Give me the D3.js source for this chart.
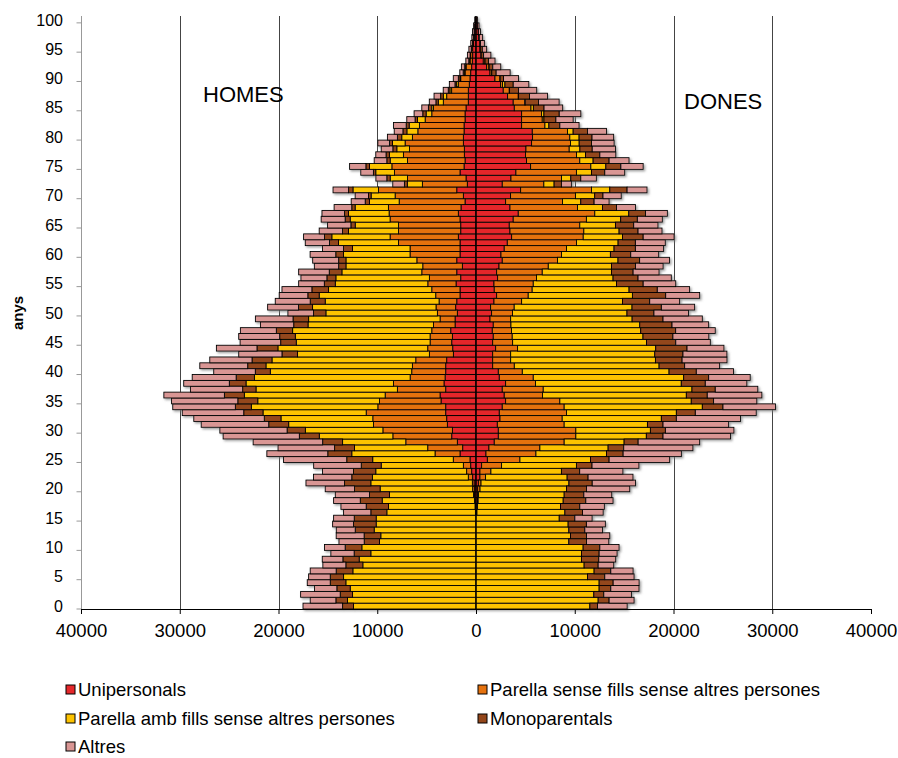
<!DOCTYPE html>
<html>
<head>
<meta charset="utf-8">
<script src="https://cdn.jsdelivr.net/npm/d3@7"></script>
<style>
  body { margin: 0; background: #fff; }
  svg { font-family: "Liberation Sans", Arial, sans-serif; }
</style>
</head>
<body>
<svg id="chart" width="898" height="758"></svg>
<script>
// ages 0..100
const ages = d3.range(0, 101);
const seriesNames = ["Unipersonals", "Parella sense fills sense altres persones",
  "Parella amb fills sense altres persones", "Monoparentals", "Altres"];
const seriesColors = ["#E5282B", "#E5720E", "#FDC300", "#93461A", "#D99694"];
const xTicks = [-40000, -30000, -20000, -10000, 0, 10000, 20000, 30000, 40000];

// HOMES (men)
const homesUni = [0,0,0,0,0,0,0,0,0,0, 0,0,0,0,0,0,30,60,100,150, 170,
  200,340,440,540,610,1620,1350,1890,2460,2390, 2900,2970,3070,3070,3540,3640,3070,3240,3130,3070,
  3070,2970,2290,2360,2460,2390,2560,2120,2120,1890, 2060,1950,1620,1620,2020,1550,1950,1380,1950,1620,
  1620,1620,1790,1550,1550,1620,1790,1520,1110,1280, 1950,880,1010,1620,1210,1110,1180,1180,1280,1280,
  1210,1210,1110,1110,1010,780,780,780,680,610, 540,440,370,340,340,250,170,150,100,60];
const homesParSense = [0,0,0,0,0,0,0,0,0,0, 0,0,0,0,0,0,30,40,60,100, 170,
  170,440,510,740,1690,2530,3540,5220,5960,7040, 7480,7480,8050,6870,6230,5560,4890,5120,3540,3440,
  3370,3130,2430,2530,2190,2260,1920,2190,1520,2020, 1990,1790,2460,2860,2860,3170,3540,4010,4040,5060,
  5060,6230,6910,6300,6300,7080,7010,7350,6670,6910, 7920,4550,5930,6640,7310,5830,6170,5560,5900,5160,
  4680,4520,4040,3370,3300,2530,2190,1690,1110,940, 570,570,240,200,100,80,50,30,30,20];
const homesParAmb = [12400,13010,12500,12740,13180,13410,12470,11460,11830,10650, 11560,9770,9640,10310,10110,10110,8970,8760,9340,8510, 9370,
  10280,9710,9200,8320,8160,8430,7410,6400,7450,7850, 8590,9300,10450,12810,12330,14260,14320,14930,15770,14320,
  14830,14560,13350,15170,13550,13650,14090,12700,13310,11290, 12500,11530,11800,10450,9370,9470,8090,7780,7180,6740,
  5830,6070,5900,5060,4380,4040,4110,3370,3000,2430, 2590,1520,1750,1890,2260,1750,1420,1280,1280,1080,
  1110,1040,780,570,170,510,340,170,170,70, 40,30,20,20,10,10,10,0,0,0];
const homesMono = [1110,1180,1250,1350,1580,1350,1690,1720,1650,1690, 1690,1550,1690,1920,2290,2220,1620,2260,2220,2020, 2590,
  2660,2090,2260,2020,2630,2430,2020,2020,2020,1850, 2020,1690,1950,1620,2020,2020,1350,1690,1850,1520,
  1850,2020,1580,2120,1580,1580,1650,1450,1580,1250, 1420,1520,1150,1690,1110,910,1280,740,740,780,
  910,910,740,610,440,510,400,340,440,270, 440,300,340,240,370,340,340,400,300,440,
  400,300,240,340,340,240,270,170,170,170, 150,100,100,40,30,20,20,10,10,0];
const homesAltres = [4010,2600,4010,2260,2330,2190,2630,2330,2090,2360, 2090,2560,2830,1920,2120,2090,2760,2560,2700,3470, 2970,
  3910,3880,3130,4820,6400,6170,5730,7040,7720,6810, 6840,7140,6230,6340,6710,6130,5290,4620,4450,4210,
  4850,4280,4380,4110,4110,4150,3640,3370,3810,2600, 3130,3540,2900,3030,2600,2630,3100,2460,2630,2600,
  2120,2460,2120,2360,2360,2430,2290,1790,1420,1350, 1580,1180,1110,1280,1650,1280,1040,1180,1180,1010,
  880,1280,840,880,670,670,670,510,570,510, 340,340,300,270,240,170,170,170,100,40];

// DONES (women)
const donesUni = [0,0,0,0,0,0,0,0,0,0, 0,0,0,0,0,0,60,100,140,160, 170,
  240,400,400,570,1150,1010,1310,1850,2260,2260, 2160,2430,2360,2660,3000,2860,2660,3000,2360,2260,
  1690,1690,1690,1990,1690,1750,1650,1750,1420,1580, 1480,1820,2090,1850,1820,2190,2090,2330,2660,2530,
  2860,3170,3610,3440,3370,3770,4280,3440,3000,3500, 4520,2660,3540,4040,5530,5120,5020,5060,5630,5730,
  5700,4620,4620,4620,3880,3770,3200,2760,2490,1920, 1420,1080,740,510,400,400,300,230,130,100];
const donesParSense = [0,0,0,0,0,0,0,0,0,0, 0,0,0,0,0,0,40,60,80,100, 240,
  270,570,1110,2020,3300,5060,5160,7080,7850,7850, 6770,6300,6810,6270,5490,3880,4150,3030,3440,2430,
  2190,1820,1820,2220,2020,1920,1950,1790,2090,2120, 2390,2800,3200,3840,3980,3940,4620,4990,5590,6130,
  6300,7010,7250,7480,7140,7410,7750,6840,5760,6570, 7180,4210,5120,6130,6100,5390,5160,4380,3940,3770,
  3570,2360,2090,2020,1690,1180,1080,610,200,510, 170,240,170,20,40,20,10,10,0,0];
const donesParAmb = [11530,12370,11930,12470,12470,11290,11960,10950,10680,10680, 10850,9400,9570,9400,9330,8430,8900,8400,8610,8670, 8760,
  8900,8260,7140,7580,7140,7140,6910,6070,7140,7550, 8430,10040,11120,13990,13310,14560,15060,14760,15230,14860,
  14660,14660,14590,13990,13550,13240,13080,13040,12300,11590, 11930,10210,10550,9810,8430,7750,7010,6400,6130,4950,
  4820,4210,3980,3570,3610,3470,3440,2530,1850,1950, 1850,1040,940,1520,1520,1350,910,1080,880,940,
  570,400,170,240,240,30,30,20,240,20, 10,10,10,0,0,0,0,0,0,0];
const donesMono = [780,1110,1010,1180,1420,1750,1690,1420,1750,1790, 1690,1790,1620,1620,1850,1580,1790,1950,2290,1990, 2020,
  2360,2120,1850,1580,1890,1690,1580,1420,1690,1520, 1580,1520,1920,2090,2260,2120,2360,2430,2530,2760,
  2590,2700,2860,3170,2970,3030,3540,3270,3130,2730, 2970,2760,3370,2860,2700,2530,2190,2430,2190,2060,
  2160,1750,2090,1920,1850,1690,1690,1420,1350,840, 1750,740,1010,1350,1520,1620,1450,1250,1250,1310,
  1450,1110,1210,1550,1080,1350,1110,910,840,340, 440,370,340,240,200,30,20,10,10,0];
const donesAltres = [3000,2530,2800,2860,2630,2970,2260,1580,1720,1820, 1950,2260,2360,1790,1920,1750,2090,2490,2760,2830, 4380,
  4380,4550,4380,4750,6130,5900,7010,6230,6840,6940, 6640,6500,6170,5320,4380,5530,4310,4210,4210,3770,
  3540,4550,4450,3740,3500,3640,4010,3710,3980,3500, 3370,3030,3440,3270,3300,3370,2630,2800,3030,2830,
  2860,3030,3130,2430,2460,2530,2220,1920,1520,1850, 2020,1010,1580,2020,2260,2020,1620,2360,2290,2190,
  1920,1950,1750,2190,1890,2090,1820,1850,1580,1520, 1420,810,670,740,440,400,340,200,170,40];

const keys = ["uni", "parSense", "parAmb", "mono", "altres"];
const homesRows = ages.map((a, i) => ({ age: a, uni: homesUni[i], parSense: homesParSense[i],
  parAmb: homesParAmb[i], mono: homesMono[i], altres: homesAltres[i] }));
const donesRows = ages.map((a, i) => ({ age: a, uni: donesUni[i], parSense: donesParSense[i],
  parAmb: donesParAmb[i], mono: donesMono[i], altres: donesAltres[i] }));

const svg = d3.select("#chart");
const plotTop = 17, plotBottom = 609;

const x = d3.scaleLinear().domain([-40000, 40000]).range([81, 871]);
const y = d3.scaleBand().domain(ages).range([plotBottom, plotTop]).padding(0);

// shadow like the spreadsheet original
const defs = svg.append("defs");
const f = defs.append("filter").attr("id", "shadow")
  .attr("x", "-5%").attr("y", "-5%").attr("width", "110%").attr("height", "110%");
f.append("feDropShadow").attr("dx", 1.5).attr("dy", 1.5).attr("stdDeviation", 0.8)
  .attr("flood-color", "#777").attr("flood-opacity", 0.7);

// gridlines
svg.append("g").selectAll("line")
  .data(xTicks.filter(d => d !== 0 && Math.abs(d) !== 40000))
  .join("line")
  .attr("x1", d => Math.round(x(d)) + 0.5).attr("x2", d => Math.round(x(d)) + 0.5)
  .attr("y1", plotTop - 1).attr("y2", plotBottom)
  .attr("stroke", "#444").attr("stroke-width", 1);

const stack = d3.stack().keys(keys);
const homesStack = stack(homesRows);
const donesStack = stack(donesRows);

const bars = svg.append("g").attr("filter", "url(#shadow)");

function drawSide(stacked, sign) {
  bars.append("g").selectAll("g")
    .data(stacked)
    .join("g")
    .attr("fill", (d, i) => seriesColors[i])
    .selectAll("rect")
    .data(d => d)
    .join("rect")
    .attr("x", d => Math.min(x(sign * d[0]), x(sign * d[1])))
    .attr("width", d => Math.abs(x(sign * d[1]) - x(sign * d[0])))
    .attr("y", d => y(d.data.age))
    .attr("height", y.bandwidth())
    .attr("stroke", "#000")
    .attr("stroke-width", 0.9);
}
drawSide(homesStack, -1);
drawSide(donesStack, 1);

// centre line at 0
svg.append("line")
  .attr("x1", x(0)).attr("x2", x(0)).attr("y1", plotTop - 1).attr("y2", plotBottom)
  .attr("stroke", "#000").attr("stroke-width", 1.2);

// left category axis
const leftX = Math.round(x(-40000)) + 0.5;
svg.append("line")
  .attr("x1", leftX).attr("x2", leftX).attr("y1", plotTop - 1).attr("y2", plotBottom)
  .attr("stroke", "#999");
const labelAges = ages.filter(a => a % 5 === 0);
svg.append("g").selectAll("line")
  .data(labelAges)
  .join("line")
  .attr("x1", leftX - 5).attr("x2", leftX)
  .attr("y1", d => y(d) + y.bandwidth()).attr("y2", d => y(d) + y.bandwidth())
  .attr("stroke", "#999");
svg.append("g").selectAll("text")
  .data(labelAges)
  .join("text")
  .attr("x", 63).attr("y", d => y(d) + y.bandwidth() / 2)
  .attr("dy", "0.35em")
  .attr("text-anchor", "end")
  .attr("font-size", 16)
  .text(d => d);

// bottom value axis
const xAxis = svg.append("g")
  .attr("transform", `translate(0,${plotBottom})`)
  .call(d3.axisBottom(x).tickValues(xTicks).tickSize(5).tickSizeOuter(0)
    .tickFormat(d => Math.abs(d)));
xAxis.select(".domain").attr("stroke", "#000");
xAxis.selectAll(".tick line").attr("stroke", "#000");
xAxis.selectAll(".tick text").attr("font-size", 18.5).attr("font-family", "Liberation Sans, Arial, sans-serif")
  .attr("y", 15).attr("dy", "0.71em").attr("fill", "#000");

// side titles
svg.append("text").attr("x", 203).attr("y", 102).attr("font-size", 22).text("HOMES");
svg.append("text").attr("x", 684).attr("y", 109).attr("font-size", 22).text("DONES");

svg.append("text")
  .attr("transform", "translate(23,313) rotate(-90)")
  .attr("text-anchor", "middle")
  .attr("font-size", 15).attr("font-weight", "bold")
  .text("anys");

// legend
const legendPos = [[66, 690], [478, 690], [66, 719], [478, 719], [66, 747]];
const legend = svg.append("g").selectAll("g")
  .data(seriesNames)
  .join("g")
  .attr("transform", (d, i) => `translate(${legendPos[i][0]},${legendPos[i][1]})`);
legend.append("rect")
  .attr("x", 0).attr("y", -5).attr("width", 9).attr("height", 9)
  .attr("fill", (d, i) => seriesColors[i]).attr("stroke", "#000");
legend.append("text")
  .attr("x", 12).attr("y", 0).attr("dy", "0.35em")
  .attr("font-size", 18.5)
  .text(d => d);
</script>
</body>
</html>
